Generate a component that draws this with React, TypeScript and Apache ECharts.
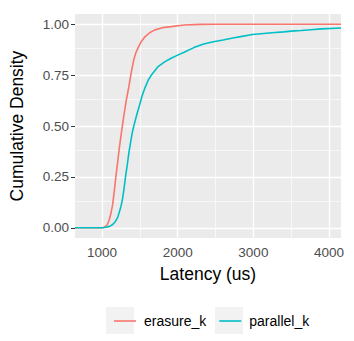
import React, { useEffect, useRef } from "react";
import * as echarts from "echarts";

const seriesNames = ["erasure_k", "parallel_k"];
const seriesColors = ["#F8766D", "#00BFC4"];

const erasureLatency = [643, 1000, 1033, 1070, 1098, 1120, 1141, 1162, 1184, 1206, 1226, 1257, 1288, 1320, 1355, 1385, 1419, 1450, 1484, 1520, 1570, 1630, 1699, 1800, 1913, 2085, 2300, 2500, 4158];
const erasureDensity = [0, 0, 0.003, 0.015, 0.042, 0.075, 0.115, 0.18, 0.254, 0.32, 0.384, 0.47, 0.55, 0.625, 0.694, 0.76, 0.825, 0.862, 0.89, 0.915, 0.939, 0.958, 0.972, 0.983, 0.988, 0.996, 0.999, 1, 1];

const parallelLatency = [643, 1000, 1055, 1100, 1141, 1175, 1206, 1226, 1250, 1270, 1290, 1312, 1334, 1355, 1377, 1399, 1420, 1441, 1463, 1506, 1527, 1570, 1613, 1656, 1741, 1827, 1913, 2000, 2085, 2214, 2343, 2471, 2600, 2729, 2850, 2986, 3100, 3244, 3400, 3501, 3630, 3759, 3900, 4158];
const parallelDensity = [0, 0, 0.003, 0.007, 0.016, 0.03, 0.05, 0.074, 0.105, 0.14, 0.19, 0.254, 0.31, 0.368, 0.418, 0.466, 0.5, 0.53, 0.56, 0.615, 0.645, 0.69, 0.727, 0.752, 0.792, 0.815, 0.833, 0.848, 0.862, 0.885, 0.903, 0.914, 0.922, 0.932, 0.94, 0.949, 0.953, 0.958, 0.962, 0.966, 0.969, 0.973, 0.977, 0.981];

const xMajorTicks = [1000, 2000, 3000, 4000];
const xMinorTicks = [1500, 2500, 3500];
const yMajorTicks = [0, 0.25, 0.5, 0.75, 1];
const yMinorTicks = [0.125, 0.375, 0.625, 0.875];
const xRange = [643, 4158];
const yRange = [-0.05, 1.05];

const FONT = "Liberation Sans, Arial, Helvetica, sans-serif";

export default function App() {
  const ref = useRef<HTMLDivElement>(null);
  useEffect(() => {
    if (!ref.current) return;
    const chart = echarts.init(ref.current, null, { renderer: "svg" });
    const pairs = (xs: number[], ys: number[]) => xs.map((x, i) => [x, ys[i]]);
    const gridLine = (w: number) => ({ color: "#FFFFFF", width: w, type: "solid" });
    const gridMarks = [
      ...xMinorTicks.map((v) => ({ xAxis: v, lineStyle: gridLine(0.6) })),
      ...yMinorTicks.map((v) => ({ yAxis: v, lineStyle: gridLine(0.6) })),
      ...xMajorTicks.map((v) => ({ xAxis: v, lineStyle: gridLine(1.3) })),
      ...yMajorTicks.map((v) => ({ yAxis: v, lineStyle: gridLine(1.3) })),
    ];
    chart.setOption({
      animation: false,
      backgroundColor: "#FFFFFF",
      grid: {
        left: 68, top: 14, right: 13, bottom: 103,
        show: true, backgroundColor: "#EBEBEB", borderWidth: 0,
      },
      xAxis: {
        type: "value", min: xRange[0], max: xRange[1],
        axisLine: { show: false },
        axisTick: { show: true, customValues: xMajorTicks, length: 4, lineStyle: { color: "#333333", width: 1 } },
        axisLabel: {
          customValues: xMajorTicks, color: "#4D4D4D", fontSize: 13.5, fontFamily: FONT, margin: 7,
          formatter: (v: number) => String(v),
        },
        splitLine: { show: false },
        name: "Latency (us)", nameLocation: "middle", nameGap: 27,
        nameTextStyle: { color: "#000000", fontSize: 17.5, fontFamily: FONT },
      },
      yAxis: {
        type: "value", min: yRange[0], max: yRange[1],
        axisLine: { show: false },
        axisTick: { show: true, customValues: yMajorTicks, length: 4, lineStyle: { color: "#333333", width: 1 } },
        axisLabel: {
          customValues: yMajorTicks, color: "#4D4D4D", fontSize: 13.5, fontFamily: FONT, margin: 6,
          formatter: (v: number) => v.toFixed(2),
        },
        splitLine: { show: false },
        name: "Cumulative Density", nameLocation: "middle", nameGap: 49,
        nameTextStyle: { color: "#000000", fontSize: 17.5, fontFamily: FONT },
      },
      legend: {
        left: 109, top: 309, orient: "horizontal",
        data: seriesNames,
        icon: "path://M0,0H22V1.6H0Z",
        itemWidth: 22, itemHeight: 1.6, itemGap: 13,
        textStyle: { color: "#000000", fontSize: 14, fontFamily: FONT, padding: [0, 0, 0, 3] },
      },
      graphic: [
        { type: "rect", z: -1, shape: { x: 106, y: 307, width: 28, height: 27 }, style: { fill: "#F2F2F2" } },
        { type: "rect", z: -1, shape: { x: 215, y: 307, width: 28, height: 27 }, style: { fill: "#F2F2F2" } },
      ],
      series: [
        {
          name: "grid", type: "line", data: [], z: 1, silent: true,
          markLine: {
            z: 1, silent: true, symbol: ["none", "none"], label: { show: false },
            emphasis: { disabled: true },
            data: gridMarks,
          },
        },
        {
          name: seriesNames[0], type: "line", z: 3,
          data: pairs(erasureLatency, erasureDensity), showSymbol: false, symbol: "none",
          lineStyle: { color: seriesColors[0], width: 1.6 }, itemStyle: { color: seriesColors[0] },
        },
        {
          name: seriesNames[1], type: "line", z: 3,
          data: pairs(parallelLatency, parallelDensity), showSymbol: false, symbol: "none",
          lineStyle: { color: seriesColors[1], width: 1.6 }, itemStyle: { color: seriesColors[1] },
        },
      ],
    });
    return () => chart.dispose();
  }, []);
  return <div ref={ref} style={{ width: 354, height: 341, position: "absolute", left: 0, top: 0 }} />;
}
